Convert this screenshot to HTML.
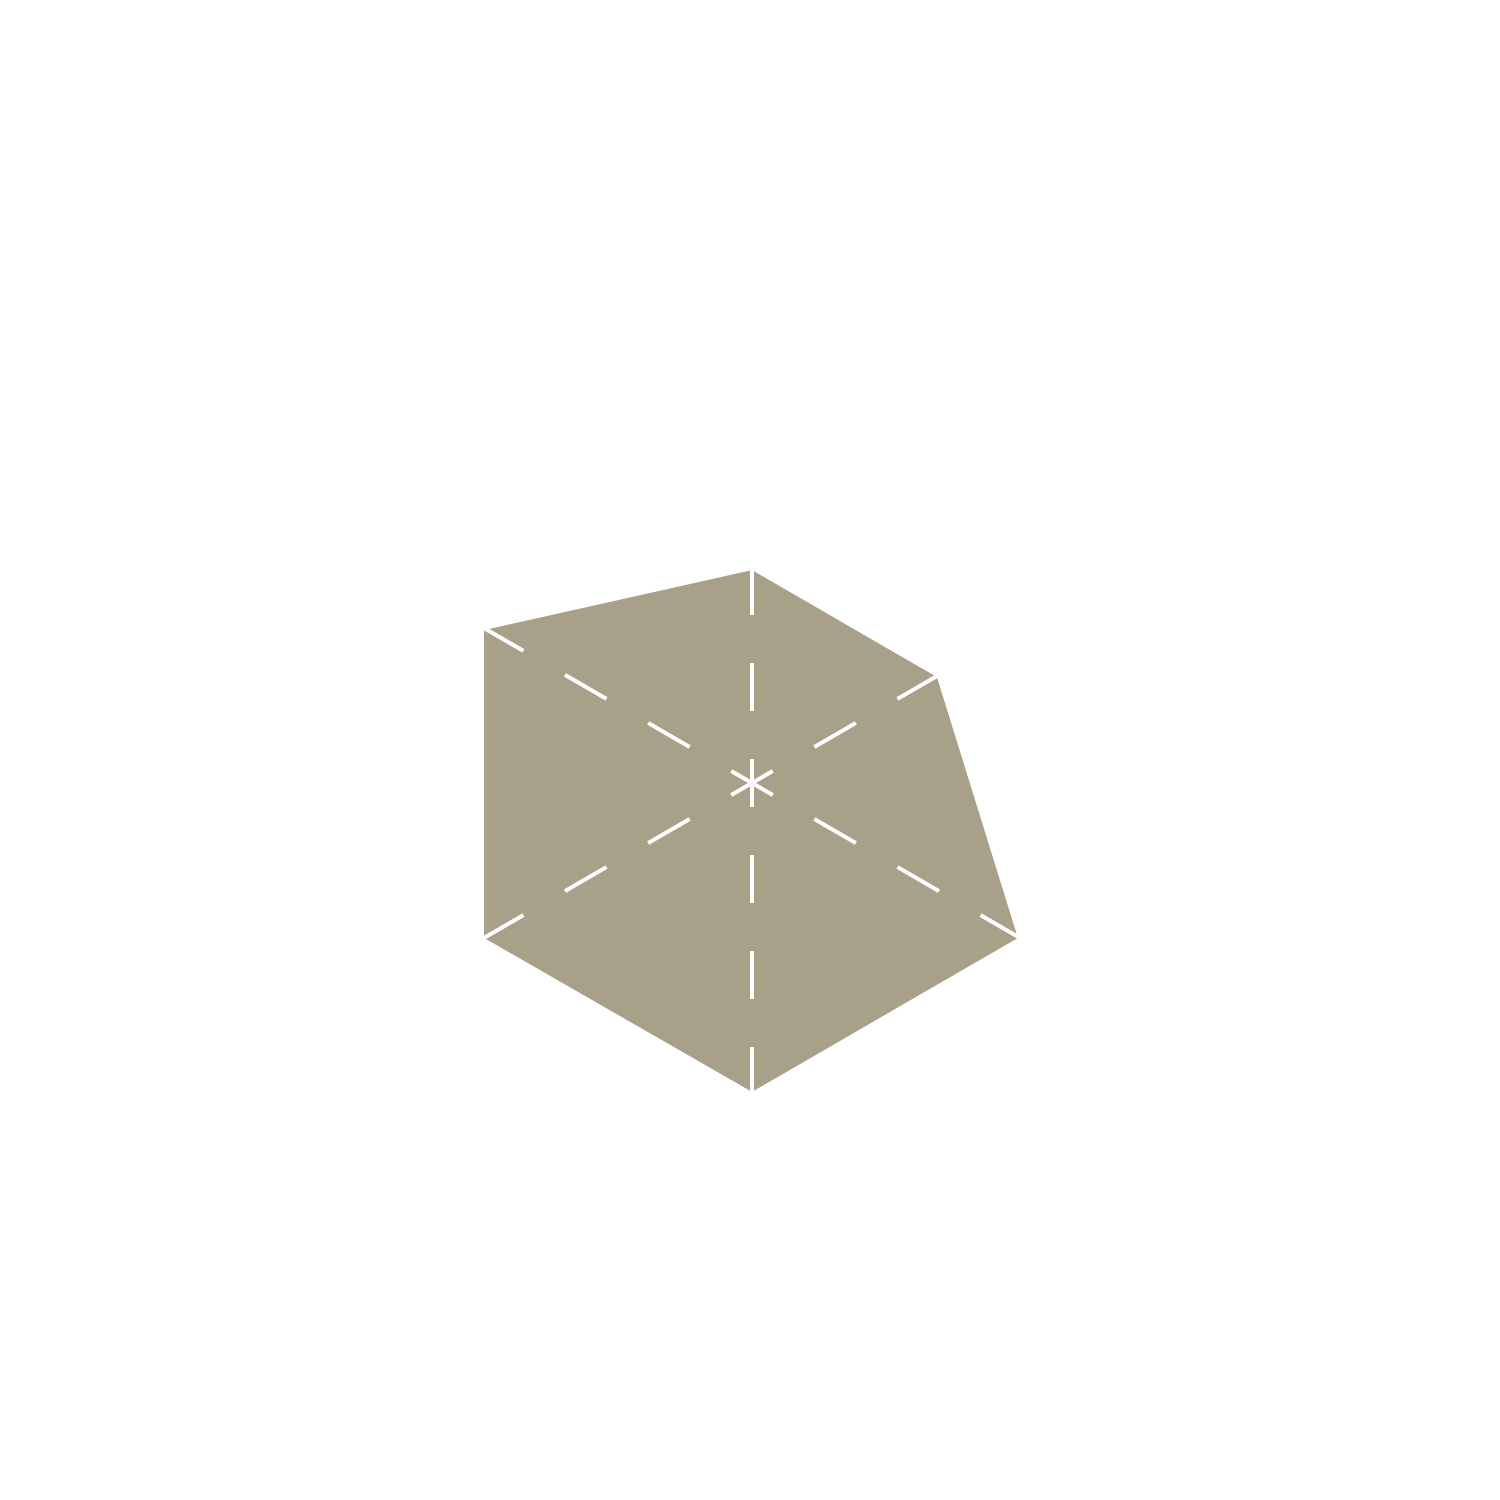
<!DOCTYPE html>
<html><head><meta charset="utf-8"><style>html,body{margin:0;padding:0;background:#fff}svg{display:block}</style></head>
<body>
<svg width="1500" height="1500" viewBox="0 0 1500 1500" xmlns="http://www.w3.org/2000/svg">
<rect width="1500" height="1500" fill="#fff"/>
<polygon points="752,570 937,677 1018,938 752,1092 484,938 484,630" fill="#a9a08a"/>
<g stroke="#fff" stroke-width="4" stroke-dasharray="48 48" stroke-dashoffset="24" fill="none">
<line x1="752" y1="783" x2="752" y2="383"/>
<line x1="752" y1="783" x2="1098" y2="583"/>
<line x1="752" y1="783" x2="1098" y2="983"/>
<line x1="752" y1="783" x2="752" y2="1183"/>
<line x1="752" y1="783" x2="406" y2="983"/>
<line x1="752" y1="783" x2="406" y2="583"/>
</g>
<polygon points="0,0 1500,0 1500,1500 0,1500 0,0 484,630 484,938 752,1092 1018,938 937,677 752,570 484,630 0,0" fill="#fff" fill-rule="evenodd"/>
</svg>
</body></html>
